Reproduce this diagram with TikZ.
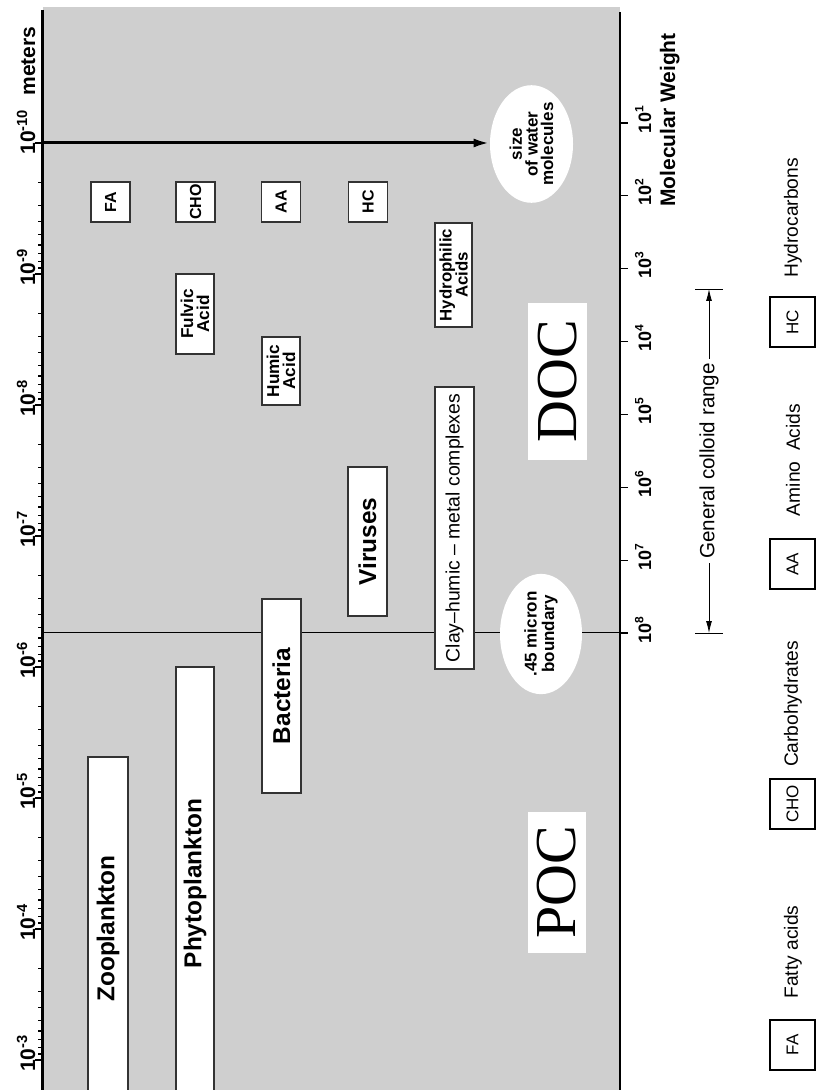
\documentclass[tikz,border=0pt]{standalone}
\usepackage{fontspec}
\setmainfont{Liberation Sans}
\newfontfamily\docfont{Liberation Serif}
\usetikzlibrary{arrows.meta,shapes.geometric}

\newcommand\fpt[1]{\fontsize{#1}{#1}\selectfont}

\begin{document}
\begin{tikzpicture}[%
    x=0.5pt, y=-0.5pt,
    >={Latex[length=8pt,width=4.5pt]},
    axis/.style={line width=1.5pt},
    tick/.style={line width=0.6pt},
    sizebox/.style={draw=black!80, fill=white, line width=0.7pt,
        rotate=90, inner sep=0pt, align=center},
    keybox/.style={draw=black, fill=white, line width=0.6pt,
        rotate=90, inner sep=0pt, minimum width=25pt, minimum height=22.5pt,
        font=\fpt{8.5}},
    keytext/.style={rotate=90, font=\fpt{9.6}},
    blob/.style={ellipse, fill=white, rotate=90, inner sep=0pt, align=center},
    carbon/.style={fill=white, rotate=90, inner sep=0pt, font=\docfont\fpt{29}},
    scalelabel/.style={rotate=90, anchor=base, font=\bfseries\fpt{10.5}}
  ]

  \clip (0,0) rectangle (817,1090);
  \fill[black!19] (43,7) rectangle (620,1090);

  % size in meters, left
  \draw[axis] (42,10) -- (42,1090);
  \foreach \e [count=\i from 0] in {10,9,...,3}{
    \draw[tick] (35,{143+131*\i}) -- (42,{143+131*\i});
    \node[scalelabel] (m\e) at (35,{143+131*\i}) {10\rlap{\textsuperscript{-\e}}};
  }
  \foreach \d in {0,...,6}
    \foreach \k in {2,...,9}
      \draw[tick] (38,{143+131*(\d+log10(\k))}) -- (42,{143+131*(\d+log10(\k))});
  \node[scalelabel] (meters) at (35,61) {meters};

  % molecular weight, right
  \draw[axis, line width=1pt] (620,12) -- (620,1090);
  \foreach \k in {1,...,8}{
    \draw[tick] (620,{123+72.86*(\k-1)}) -- (628,{123+72.86*(\k-1)});
    \node[scalelabel, font=\bfseries\fpt{9}] (mw\k) at (651,{123+72.86*(\k-1)})
      {10\rlap{\textsuperscript{\k}}};
  }
  \node[scalelabel, font=\bfseries\fpt{10.5}] (mwt) at (675,120) {Molecular Weight};

  % .45 micron cut
  \coordinate (um) at (42,632);
  \coordinate (t8) at (628,632);
  \draw[line width=0.5pt] (um) -- (t8);

  % water molecules
  \coordinate (nm) at (42,143);
  \node[blob, minimum width=54pt, minimum height=41.5pt,
        font=\bfseries\fontsize{8.5}{7.8}\selectfont] (water) at (531.5,144)
        {size\\of water\\molecules};
  \draw[->, line width=1.5pt] (nm) -- (nm -| water.north);

  \node[blob, minimum width=54pt, minimum height=41pt,
        font=\bfseries\fontsize{8.5}{8.8}\selectfont] (micron) at (541,634)
        {.45 micron\\boundary};

  % small molecules
  \node[sizebox, minimum width=20pt, minimum height=19.5pt, font=\bfseries\fpt{8}] (FA)  at (110.5,202) {FA};
  \node[sizebox, minimum width=20pt, minimum height=19.5pt, font=\bfseries\fpt{8}] (CHO) at (195.5,202) {CHO};
  \node[sizebox, minimum width=20pt, minimum height=19.5pt, font=\bfseries\fpt{8}] (AA)  at (281,202) {AA};
  \node[sizebox, minimum width=20pt, minimum height=19.5pt, font=\bfseries\fpt{8}] (HC)  at (368,202) {HC};

  \node[sizebox, minimum width=52pt, minimum height=18.5pt, font=\bfseries\fontsize{8.4}{8}\selectfont] (hydro) at (453.5,275) {Hydrophilic\\Acids};
  \node[sizebox, minimum width=40pt, minimum height=19pt, font=\bfseries\fontsize{8.6}{8}\selectfont] (fulvic) at (195,314) {Fulvic\\Acid};
  \node[sizebox, minimum width=34pt, minimum height=19pt, font=\bfseries\fontsize{8.6}{8}\selectfont] (humic) at (281,371) {Humic\\Acid};

  % organisms and colloids
  \node[sizebox, minimum width=74.5pt, minimum height=19.5pt, font=\bfseries\fpt{12.2}] (viruses) at (367.5,541.5) {Viruses};
  \node[sizebox, minimum width=141pt, minimum height=19.5pt, font=\fpt{9.7}] (clay) at (454.5,528) {Clay--humic -- metal complexes};
  \node[sizebox, minimum width=97pt, minimum height=19.5pt, font=\bfseries\fpt{12.2}] (bact) at (281.5,696) {Bacteria};
  \node[sizebox, minimum width=216.5pt, minimum height=19pt, font=\bfseries\fpt{12.2}] (phyto) at (195,883.5) {Phytoplankton};
  \node[sizebox, minimum width=171.5pt, minimum height=20pt, font=\bfseries\fpt{12.2}] (zoo) at (108,928.5) {Zooplankton};

  \node[carbon, minimum width=78.5pt, minimum height=29.5pt] (doc) at (557.5,381.5) {DOC};
  \node[carbon, minimum width=70.5pt, minimum height=29pt] (poc) at (557,882.5) {POC};

  % colloid range
  \node[rotate=90, inner sep=2pt, font=\fpt{10.3}] (gcr) at (709,461) {General colloid range};
  \coordinate (ctop) at (709,289);
  \coordinate (cbot) at (709,633);
  \draw[-{Latex[length=6pt,width=3pt]}] (gcr.east) -- (ctop);
  \draw[-{Latex[length=6pt,width=3pt]}] (gcr.west) -- (cbot);
  \draw (ctop) ++(-14,0) -- ++(28,0);
  \draw (cbot) ++(-14,0) -- ++(28,0);

  % key
  \node[keybox] (kHC)  at (792.5,322) {HC};
  \node[keytext] (tHC) at (793,218) {Hydrocarbons};
  \node[keybox] (kAA)  at (792.5,564) {AA};
  \node[keytext] (tAA) at (793,460) {Amino\ \ Acids};
  \node[keybox] (kCHO) at (792.5,804) {CHO};
  \node[keytext] (tCHO) at (793,704) {Carbohydrates};
  \node[keybox] (kFA)  at (792.5,1045) {FA};
  \node[keytext] (tFA) at (793,952) {Fatty acids};

\end{tikzpicture}
\end{document}
